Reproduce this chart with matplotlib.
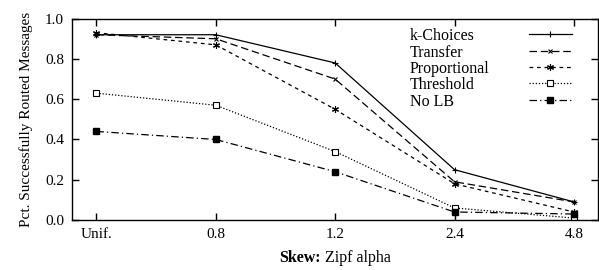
import matplotlib
matplotlib.use('Agg')
import matplotlib.pyplot as plt

plt.rcParams['font.family'] = 'Liberation Serif'

skew = ['Unif.', '0.8', '1.2', '2.4', '4.8']
k_choices = [0.92, 0.92, 0.78, 0.25, 0.09]
transfer = [0.92, 0.90, 0.70, 0.19, 0.09]
proportional = [0.93, 0.87, 0.55, 0.18, 0.04]
threshold = [0.63, 0.57, 0.34, 0.06, 0.01]
no_lb = [0.44, 0.40, 0.24, 0.04, 0.03]
names = ['k-Choices', 'Transfer', 'Proportional', 'Threshold', 'No LB']

fig = plt.figure(figsize=(5.99, 2.70), dpi=100)
ax = fig.add_axes([0.121, 0.185, 0.877, 0.746])

x = range(len(skew))
lw = 0.9
h1, = ax.plot(x, k_choices, color='black', lw=lw, ls='-', marker='+', ms=5,
              mew=0.8)
h2, = ax.plot(x, transfer, color='black', lw=lw, ls=(0, (6, 3)), marker='x',
              ms=3.5, mew=0.8)
h3, = ax.plot(x, proportional, color='black', lw=lw, ls=(0, (3, 3)),
              marker=(6, 2, 0), ms=5, mew=0.8)
h4, = ax.plot(x, threshold, color='black', lw=lw, ls=(0, (1, 1.5)), marker='s',
              ms=4, mfc='white', mew=0.8)
h5, = ax.plot(x, no_lb, color='black', lw=lw, ls=(0, (6, 2.5, 1, 2.5)),
              marker='s', ms=4.5, mfc='black')

ax.set_xlim(-0.2, 4.2)
ax.set_ylim(0, 1.0)
ax.set_xticks(list(x))
ax.set_xticklabels(skew)
ax.set_yticks([0, 0.2, 0.4, 0.6, 0.8, 1.0])
ax.set_yticklabels(['0.0', '0.2', '0.4', '0.6', '0.8', '1.0'])
ax.tick_params(direction='in', top=True, right=True, length=5, width=1,
               labelsize=11, pad=6)
for s in ax.spines.values():
    s.set_linewidth(1)

ax.set_ylabel('Pct. Successfully Routed Messages', fontsize=11, labelpad=9)

# legend: line samples on the right, labels left-aligned further left
leg = ax.legend([h1, h2, h3, h4, h5], [''] * 5, loc='upper right',
                frameon=False, fontsize=11.5, handlelength=2.7,
                handletextpad=0, labelspacing=0.02, borderaxespad=0,
                bbox_to_anchor=(0.963, 0.985))

# x label with bold "Skew:" part
lab_y = 8 / 270
t1 = fig.text(0, lab_y, 'Skew:', fontsize=11.5, fontweight='bold',
              ha='left', va='baseline')
t2 = fig.text(0, lab_y, ' Zipf alpha', fontsize=11.5, ha='left', va='baseline')

fig.canvas.draw()
inv = fig.transFigure.inverted()
for h, name in zip(leg.legend_handles, names):
    bb = h.get_window_extent()
    yc = inv.transform((0, (bb.y0 + bb.y1) / 2))[1]
    fig.text(410 / 599, yc, name, fontsize=11.5, ha='left',
             va='center_baseline')

w1 = t1.get_window_extent().width / fig.bbox.width
w2 = t2.get_window_extent().width / fig.bbox.width
axb = ax.get_position()
cx = (axb.x0 + axb.x1) / 2
t1.set_x(cx - (w1 + w2) / 2)
t2.set_x(cx - (w1 + w2) / 2 + w1)

fig.savefig('out.png', dpi=100)
